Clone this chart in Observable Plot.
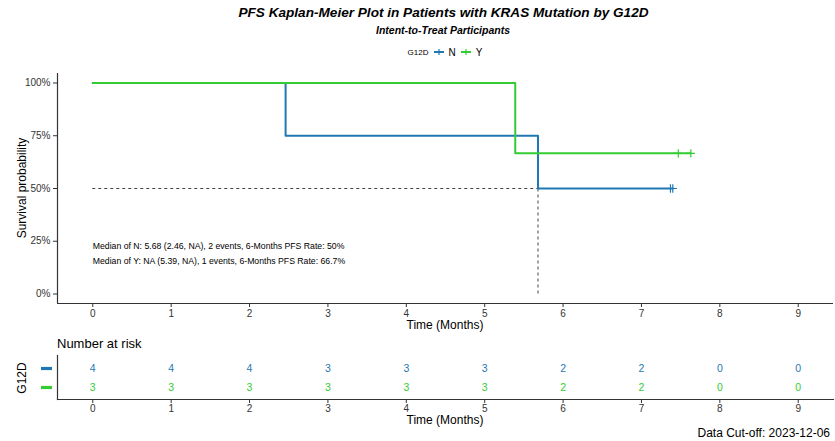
<!DOCTYPE html>
<html>
<head>
<meta charset="utf-8">
<script src="https://cdn.jsdelivr.net/npm/d3@7"></script>
<script src="https://cdn.jsdelivr.net/npm/@observablehq/plot@0.6"></script>
<style>
  html, body { margin: 0; padding: 0; background: #fff; }
  #wrap { position: relative; width: 835px; height: 441px; font-family: "Liberation Sans", Arial, sans-serif; color: #000; overflow: hidden; }
  .abs { position: absolute; white-space: nowrap; }
  #main, #risk { position: absolute; left: 0; }
  #main { top: 60px; }
  #risk { top: 335px; }
</style>
</head>
<body>
<div id="wrap">
  <div class="abs" id="title" style="left:0;width:887px;text-align:center;top:5px;font-size:13.6px;font-weight:bold;font-style:italic;">PFS Kaplan-Meier Plot in Patients with KRAS Mutation by G12D</div>
  <div class="abs" style="left:0;width:886px;text-align:center;top:24px;font-size:10.5px;font-weight:bold;font-style:italic;">Intent-to-Treat Participants</div>
  <div class="abs" id="legend" style="left:0;width:890px;text-align:center;top:46px;font-size:10px;"></div>
  <div class="abs" style="top:188px;font-size:12px;transform:translate(-50%,-50%) rotate(-90deg);transform-origin:center;left:22px;">Survival probability</div>
  <div class="abs" style="left:445px;top:325px;font-size:12px;transform:translate(-50%,-50%);">Time (Months)</div>
  <div class="abs" style="left:57px;top:336px;font-size:13px;">Number at risk</div>
  <div class="abs" style="left:22px;top:378px;font-size:12px;transform:translate(-50%,-50%) rotate(-90deg);">G12D</div>
  <div class="abs" style="left:445px;top:420px;font-size:12px;transform:translate(-50%,-50%);">Time (Months)</div>
  <div class="abs" style="right:5px;top:426px;font-size:12px;">Data Cut-off: 2023-12-06</div>
  <div id="main"></div>
  <div id="risk"></div>
</div>
<script>
// ---- data ----
const groups = ["N", "Y"];
const groupColors = ["#1F78B4", "#33CC33"];
// step points (time, survival) for each group
const timesN = [0, 2.46, 5.68, 7.40];
const survN  = [1, 0.75, 0.5, 0.5];
const timesY = [0, 5.39, 7.63];
const survY  = [1, 0.6667, 0.6667];
// censor times
const censorTimesN = [7.37, 7.40];
const censorSurvN  = [0.5, 0.5];
const censorTimesY = [7.47, 7.63];
const censorSurvY  = [0.6667, 0.6667];
// median
const medianTime = 5.68;
const medianSurv = 0.5;
// annotation
const annotLines = [
  "Median of N: 5.68 (2.46, NA), 2 events, 6-Months PFS Rate: 50%",
  "Median of Y: NA (5.39, NA), 1 events, 6-Months PFS Rate: 66.7%"
];
const annotX = 0, annotY = 0.2;
// risk table
const riskTimes = [0, 1, 2, 3, 4, 5, 6, 7, 8, 9];
const riskN = [4, 4, 4, 3, 3, 3, 2, 2, 0, 0];
const riskY = [3, 3, 3, 3, 3, 3, 2, 2, 0, 0];
const yTicks = [0, 0.25, 0.5, 0.75, 1];
const yTickLabels = ["0%", "25%", "50%", "75%", "100%"];

// ---- build tables ----
const curve = [
  ...timesN.map((t, i) => ({group: "N", time: t, surv: survN[i]})),
  ...timesY.map((t, i) => ({group: "Y", time: t, surv: survY[i]}))
];
const censors = [
  ...censorTimesN.map((t, i) => ({group: "N", time: t, surv: censorSurvN[i]})),
  ...censorTimesY.map((t, i) => ({group: "Y", time: t, surv: censorSurvY[i]}))
];
const risk = [
  ...riskTimes.map((t, i) => ({group: "N", time: t, n: riskN[i]})),
  ...riskTimes.map((t, i) => ({group: "Y", time: t, n: riskY[i]}))
];
const color = {domain: groups, range: groupColors};
const xDomain = [-0.45, 9.45];
const axisColor = "#333";
const font = "Liberation Sans, Arial, sans-serif";
const barSymbol = {draw(ctx) { ctx.rect(-5.5, -1.6, 11, 3.2); }};

const main = Plot.plot({
  width: 835, height: 278,
  marginLeft: 57, marginRight: 2, marginTop: 13, marginBottom: 35,
  style: {fontFamily: font, fontSize: "10px", background: "transparent", overflow: "visible"},
  x: {domain: xDomain},
  y: {domain: [-0.045, 1.045]},
  color,
  marks: [
    Plot.axisX({ticks: riskTimes, tickSize: 4, tickPadding: 2, label: null, stroke: axisColor, color: "#333", fontSize: 10}),
    Plot.axisY({ticks: yTicks, tickFormat: (d) => yTickLabels[yTicks.indexOf(d)], tickSize: 4, tickPadding: 3, label: null, stroke: axisColor, color: "#333", fontSize: 10}),
    Plot.ruleX([xDomain[0]], {stroke: axisColor, strokeWidth: 1.2}),
    Plot.ruleY([-0.045], {stroke: axisColor, strokeWidth: 1.2}),
    Plot.ruleY([medianSurv], {x1: 0, x2: medianTime, stroke: "#444", strokeDasharray: "3,3", strokeWidth: 1}),
    Plot.ruleX([medianTime], {y1: 0, y2: medianSurv, stroke: "#444", strokeDasharray: "3,3", strokeWidth: 1}),
    Plot.line(curve, {x: "time", y: "surv", z: "group", stroke: "group", curve: "step-after", strokeWidth: 2}),
    Plot.dot(censors, {x: "time", y: "surv", stroke: "group", symbol: "plus", r: 2.8, strokeWidth: 1.2}),
    Plot.text([annotLines.join("\n")], {x: annotX, y: annotY, textAnchor: "start", lineAnchor: "middle", lineHeight: 1.72, fontSize: 8.7, fill: "#000"})
  ]
});
document.getElementById("main").appendChild(main);

const riskPlot = Plot.plot({
  width: 835, height: 100,
  marginLeft: 57, marginRight: 2, marginTop: 20, marginBottom: 36,
  style: {fontFamily: font, fontSize: "10px", background: "transparent", overflow: "visible"},
  x: {domain: xDomain},
  y: {type: "point", domain: groups, range: [33, 52], padding: 0, axis: null},
  color,
  marks: [
    Plot.axisX({ticks: riskTimes, tickSize: 4, tickPadding: 1, label: null, stroke: axisColor, color: "#333", fontSize: 10}),
    Plot.frame({anchor: "left", stroke: axisColor, strokeWidth: 1.2}),
    Plot.frame({anchor: "bottom", stroke: axisColor, strokeWidth: 1.2}),
    Plot.text(risk, {x: "time", y: "group", text: "n", fill: "group", fontSize: 10.5}),
    Plot.dot(groups, {y: (d) => d, fill: (d) => d, frameAnchor: "left", dx: -11, symbol: barSymbol, r: 4})
  ]
});
document.getElementById("risk").appendChild(riskPlot);

// legend
const leg = document.getElementById("legend");
leg.innerHTML = `<span style="font-size:8px;vertical-align:middle;">G12D</span>` +
  groups.map((g, i) => `<svg width="14" height="10" style="vertical-align:middle;margin:0 3px 0 3px"><line x1="2" x2="12" y1="5" y2="5" stroke="${groupColors[i]}" stroke-width="2"/><line x1="7" x2="7" y1="2" y2="8" stroke="${groupColors[i]}" stroke-width="1.2"/></svg><span style="vertical-align:middle;">${g}</span>`).join("");
</script>
</body>
</html>
